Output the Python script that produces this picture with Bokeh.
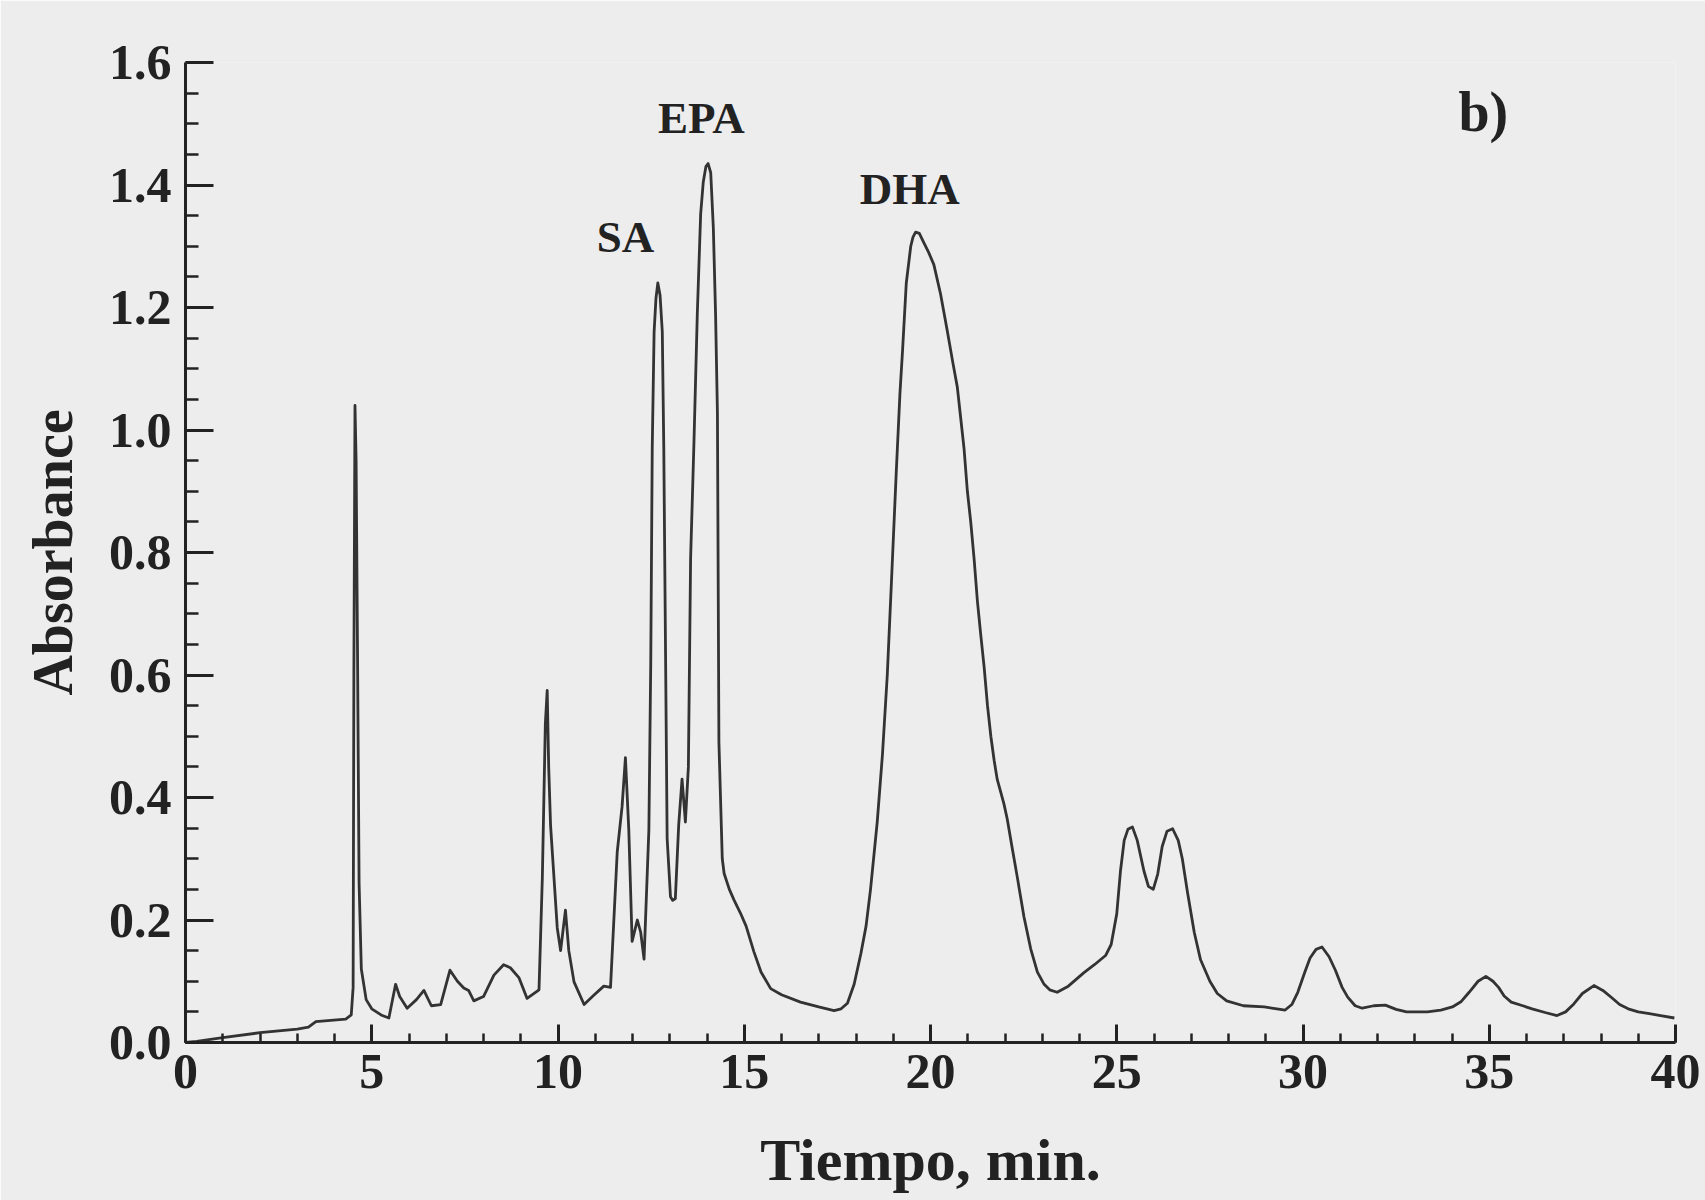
from bokeh.plotting import figure
from bokeh.models import Range1d, SingleIntervalTicker, NumeralTickFormatter, ColumnDataSource
from bokeh.core.properties import value
from bokeh.embed import file_html
from bokeh.resources import INLINE

# Chromatogram trace (time in min, absorbance)
tiempo = [0.0, 0.3, 1.0, 2.0, 3.0, 3.3, 3.5, 4.3, 4.45, 4.5, 4.52, 4.55, 4.58, 4.62, 4.66,
          4.72, 4.85, 5.0, 5.25, 5.46, 5.64, 5.75, 5.95, 6.2, 6.4, 6.6, 6.85, 7.1, 7.3,
          7.47, 7.6, 7.74, 8.0, 8.28, 8.54, 8.72, 8.95, 9.17, 9.49, 9.58, 9.66, 9.71,
          9.75, 9.8, 9.98, 10.07, 10.2, 10.29, 10.43, 10.7, 10.96, 11.23, 11.41, 11.59,
          11.72, 11.81, 11.9, 11.99, 12.13, 12.22, 12.31, 12.44, 12.49, 12.53, 12.58,
          12.63, 12.68, 12.74, 12.8, 12.84, 12.93, 13.02, 13.08, 13.15, 13.24, 13.33,
          13.42, 13.5, 13.56, 13.65, 13.74, 13.83, 13.9, 13.97, 14.03, 14.1, 14.17,
          14.23, 14.28, 14.32, 14.41, 14.46, 14.6, 14.73, 14.9, 15.05, 15.26, 15.45,
          15.71, 16.0, 16.51, 17.0, 17.41, 17.6, 17.77, 17.95, 18.13, 18.27, 18.39,
          18.57, 18.71, 18.84, 18.95, 19.08, 19.18, 19.25, 19.35, 19.47, 19.53, 19.6,
          19.7, 19.82, 19.95, 20.09, 20.27, 20.45, 20.6, 20.72, 20.81, 20.9, 20.99,
          21.08, 21.17, 21.26, 21.35, 21.44, 21.53, 21.62, 21.71, 21.79, 21.88, 21.97,
          22.06, 22.2, 22.33, 22.51, 22.69, 22.87, 23.05, 23.2, 23.4, 23.7, 24.12, 24.4,
          24.7, 24.85, 25.0, 25.1, 25.2, 25.3, 25.42, 25.55, 25.73, 25.85, 25.98, 26.1,
          26.22, 26.35, 26.5, 26.65, 26.76, 26.9, 27.08, 27.25, 27.5, 27.7, 27.95, 28.4,
          28.96, 29.3, 29.52, 29.7, 29.86, 30.05, 30.19, 30.35, 30.51, 30.7, 30.87,
          31.05, 31.2, 31.4, 31.59, 31.9, 32.21, 32.5, 32.78, 33.34, 33.7, 34.01, 34.25,
          34.46, 34.7, 34.91, 35.1, 35.25, 35.4, 35.59, 35.9, 36.15, 36.5, 36.82, 37.05,
          37.27, 37.5, 37.81, 38.05, 38.29, 38.5, 38.73, 39.0, 39.3, 39.6, 39.97]
absorbancia = [0.0, 0.002, 0.008, 0.016, 0.022, 0.025, 0.034, 0.038, 0.045, 0.09, 0.6, 1.04,
               0.95, 0.62, 0.26, 0.12, 0.07, 0.055, 0.045, 0.04, 0.095, 0.075, 0.056, 0.07,
               0.085, 0.06, 0.062, 0.118, 0.1, 0.089, 0.085, 0.068, 0.075, 0.11, 0.127,
               0.122, 0.106, 0.072, 0.086, 0.27, 0.52, 0.575, 0.45, 0.355, 0.187, 0.15,
               0.216, 0.15, 0.099, 0.062, 0.077, 0.092, 0.09, 0.311, 0.385, 0.465, 0.348,
               0.165, 0.2, 0.18, 0.136, 0.348, 0.62, 0.97, 1.16, 1.215, 1.24, 1.22, 1.16,
               0.97, 0.333, 0.238, 0.232, 0.235, 0.355, 0.43, 0.36, 0.45, 0.79, 0.98, 1.19,
               1.353, 1.405, 1.43, 1.435, 1.42, 1.33, 1.19, 1.027, 0.49, 0.3, 0.276, 0.25,
               0.232, 0.211, 0.19, 0.148, 0.115, 0.088, 0.078, 0.066, 0.058, 0.052, 0.055,
               0.064, 0.095, 0.145, 0.19, 0.25, 0.36, 0.47, 0.6, 0.75, 0.93, 1.06, 1.13,
               1.24, 1.3, 1.315, 1.323, 1.321, 1.306, 1.29, 1.27, 1.222, 1.162, 1.11, 1.07,
               1.02, 0.97, 0.9, 0.85, 0.79, 0.72, 0.665, 0.613, 0.55, 0.5, 0.46, 0.43, 0.41,
               0.39, 0.365, 0.315, 0.27, 0.205, 0.153, 0.115, 0.095, 0.086, 0.082, 0.092,
               0.114, 0.127, 0.142, 0.16, 0.21, 0.28, 0.33, 0.348, 0.352, 0.33, 0.28, 0.255,
               0.25, 0.275, 0.32, 0.345, 0.349, 0.33, 0.3, 0.245, 0.18, 0.135, 0.1, 0.08,
               0.068, 0.06, 0.058, 0.055, 0.053, 0.062, 0.082, 0.115, 0.138, 0.152, 0.156,
               0.14, 0.118, 0.09, 0.074, 0.06, 0.056, 0.06, 0.061, 0.054, 0.05, 0.05, 0.053,
               0.058, 0.067, 0.082, 0.1, 0.108, 0.1, 0.09, 0.076, 0.066, 0.06, 0.055, 0.049,
               0.044, 0.05, 0.063, 0.08, 0.093, 0.085, 0.073, 0.062, 0.055, 0.05, 0.047,
               0.044, 0.04]

# Peak labels and panel tag
etiquetas = ["SA", "EPA", "DHA"]
etiqueta_t = [11.81, 13.85, 19.44]
etiqueta_a = [1.315, 1.509, 1.393]
panel = ["b)"]
panel_t = [34.84]
panel_a = [1.52]

x_ticks_interval = 5
y_ticks_interval = 0.2

BG = "#ededed"
INK = "#222222"
FONT = "Liberation Serif"

p = figure(width=1705, height=1200, output_backend="svg", toolbar_location=None,
           x_range=Range1d(0, 40), y_range=Range1d(0, 1.6),
           min_border_left=185, min_border_right=30, min_border_top=62, min_border_bottom=158)
p.background_fill_color = BG
p.border_fill_color = BG
p.outline_line_color = None
p.grid.visible = False

p.line(tiempo, absorbancia, line_color="#333333", line_width=2.8, line_join="round")

src = ColumnDataSource(dict(x=etiqueta_t, y=etiqueta_a, t=etiquetas))
p.text(x="x", y="y", text="t", source=src, text_font=value(FONT), text_font_size="45px",
       text_align="center", text_baseline="middle", text_color=INK, text_font_style="bold")
src2 = ColumnDataSource(dict(x=panel_t, y=panel_a, t=panel))
p.text(x="x", y="y", text="t", source=src2, text_font=value(FONT), text_font_size="56px",
       text_align="center", text_baseline="middle", text_color=INK, text_font_style="bold")

p.xaxis.ticker = SingleIntervalTicker(interval=x_ticks_interval, num_minor_ticks=5)
p.yaxis.ticker = SingleIntervalTicker(interval=y_ticks_interval, num_minor_ticks=4)
p.xaxis.formatter = NumeralTickFormatter(format="0")
p.yaxis.formatter = NumeralTickFormatter(format="0.0")

p.xaxis.axis_label = "Tiempo, min."
p.yaxis.axis_label = "Absorbance"

for ax in (p.xaxis, p.yaxis):
    ax.axis_line_color = INK
    ax.axis_line_width = 3
    ax.major_tick_line_color = INK
    ax.major_tick_line_width = 3
    ax.minor_tick_line_color = INK
    ax.minor_tick_line_width = 2.5
    ax.major_tick_out = 0
    ax.minor_tick_out = 0
    ax.major_label_text_font = FONT
    ax.major_label_text_font_style = "bold"
    ax.major_label_text_font_size = "50px"
    ax.major_label_text_color = INK
    ax.axis_label_text_font = FONT
    ax.axis_label_text_font_style = "bold"
    ax.axis_label_text_color = INK

p.xaxis.major_tick_in = 18
p.xaxis.minor_tick_in = 9
p.yaxis.major_tick_in = 28
p.yaxis.minor_tick_in = 13
p.xaxis.major_label_standoff = 12
p.yaxis.major_label_standoff = 14
p.xaxis.axis_label_text_font_size = "60px"
p.yaxis.axis_label_text_font_size = "56px"
p.xaxis.axis_label_standoff = 36
p.yaxis.axis_label_standoff = 22

open("out.html", "w").write(file_html(p, INLINE))
